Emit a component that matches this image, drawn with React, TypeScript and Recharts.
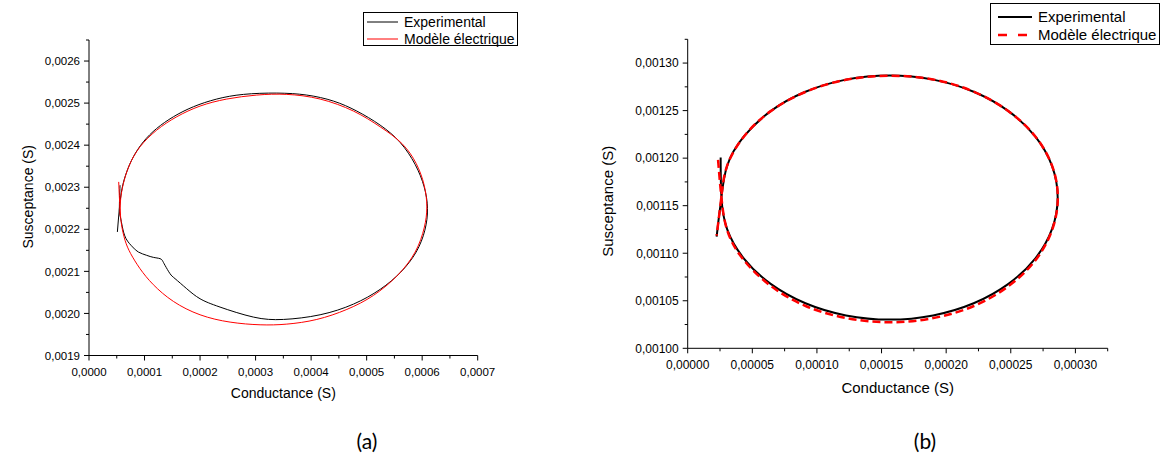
import React from 'react'
import { LineChart, Line, XAxis, YAxis, Legend, Label } from 'recharts'

// all values in µS

// (a)
const expAG = [51.1, 54.7, 59.5, 67.9, 79.9, 97.9, 121.9, 152.0, 188.0, 230.0, 278.1, 338.1, 392.2, 440.2, 482.3, 524.3, 560.4, 587.4, 603.6, 609.6, 604.8, 589.2, 561.6, 524.3, 476.3, 416.2, 350.2, 296.1, 236.0, 200.0, 176.0, 155.0, 145.9, 136.9, 132.7, 127.9, 115.9, 103.9, 88.9, 78.5, 66.7, 60.1, 56.5, 54.7, 55.9]
const expAB = [2193.7, 2249.2, 2296.9, 2336.5, 2372.3, 2408.0, 2439.7, 2467.5, 2491.3, 2509.6, 2520.7, 2523.8, 2519.1, 2504.8, 2481.0, 2447.7, 2406.4, 2354.0, 2300.8, 2249.2, 2197.6, 2146.0, 2098.4, 2057.2, 2022.2, 1996.8, 1985.7, 1991.3, 2015.1, 2034.9, 2058.7, 2082.6, 2094.5, 2114.3, 2124.6, 2130.2, 2133.3, 2138.1, 2146.0, 2158.0, 2177.8, 2205.6, 2229.4, 2249.2, 2304.8]
const modAG = [53.5, 54.7, 55.9, 58.3, 64.9, 75.1, 91.9, 115.9, 152.0, 200.0, 254.1, 308.1, 356.2, 410.2, 464.3, 512.3, 555.6, 587.4, 603.6, 608.4, 603.6, 589.2, 563.4, 524.3, 476.3, 416.2, 356.2, 302.1, 248.0, 200.0, 158.0, 121.9, 91.9, 72.7, 61.9, 57.1, 55.9, 56.2]
const modAB = [2312.7, 2277.0, 2249.2, 2213.5, 2173.8, 2142.1, 2106.4, 2068.3, 2028.6, 1996.8, 1979.4, 1973.0, 1974.6, 1985.7, 2009.5, 2042.9, 2090.5, 2146.0, 2203.2, 2253.2, 2304.8, 2356.4, 2404.0, 2443.7, 2481.0, 2509.6, 2520.7, 2519.1, 2509.6, 2492.9, 2467.5, 2435.7, 2396.1, 2352.4, 2308.8, 2273.0, 2245.3, 2232.0]

// (b)
const expBG = [22.4, 24.2, 26.1, 30.5, 43.5, 64.2, 91.1, 122.5, 156.2, 189.9, 221.3, 248.2, 268.9, 281.9, 286.3, 281.9, 268.9, 248.2, 221.3, 189.9, 156.2, 122.5, 91.1, 64.2, 43.5, 30.5, 26.1, 25.5]
const expBB = [1117.5, 1138.6, 1158.6, 1191.8, 1222.8, 1249.4, 1269.8, 1282.6, 1287.0, 1282.6, 1269.8, 1249.4, 1222.8, 1191.8, 1158.6, 1125.4, 1094.4, 1067.8, 1047.4, 1034.6, 1030.2, 1034.6, 1047.4, 1067.8, 1094.4, 1125.4, 1158.6, 1200.7]
const modBG = [23.5, 24.8, 26.1, 30.6, 43.6, 64.4, 91.3, 122.6, 156.3, 190.0, 221.4, 248.3, 269.0, 282.0, 286.4, 282.0, 269.0, 248.2, 221.2, 189.8, 156.2, 122.4, 91.0, 64.0, 43.4, 30.4, 26.0, 22.4]
const modBB = [1198.2, 1177.2, 1158.6, 1124.0, 1092.5, 1065.5, 1044.5, 1031.8, 1027.4, 1031.8, 1044.5, 1065.5, 1092.5, 1124.5, 1158.6, 1191.8, 1222.8, 1249.4, 1270.0, 1282.8, 1286.6, 1282.4, 1269.6, 1249.2, 1222.6, 1191.6, 1158.6, 1118.6]

// ticks (µS)
const aXMajor = [0, 100, 200, 300, 400, 500, 600, 700]
const aXMinor = [50, 150, 250, 350, 450, 550, 650]
const aYMajor = [1900, 2000, 2100, 2200, 2300, 2400, 2500, 2600]
const aYMinor = [1950, 2050, 2150, 2250, 2350, 2450, 2550, 2650]
const bXMajor = [0, 50, 100, 150, 200, 250, 300]
const bXMinor = [25, 75, 125, 175, 225, 275, 325]
const bYMajor = [1000, 1050, 1100, 1150, 1200, 1250, 1300]
const bYMinor = [1025, 1075, 1125, 1175, 1225, 1275, 1325]

const EXP = 'Experimental'
const MOD = 'Modèle électrique'

const FONT = '"Liberation Sans", Arial, sans-serif'

const rows = (g: number[], b: number[]) => g.map((x, i) => ({ g: x, b: b[i] }))
const fmt = (v: number, digits: number) => (v * 1e-6).toFixed(digits).replace('.', ',')
const merge = (a: number[], b: number[]) => [...a, ...b].sort((p, q) => p - q)

function YTick(props: any) {
  const { x, y, payload, major, digits, fontSize } = props
  const isMajor = major.includes(payload.value)
  return (
    <g>
      <line x1={x - (isMajor ? 5 : 3)} x2={x} y1={y} y2={y} stroke="#000" />
      {isMajor && (
        <text x={x - 9} y={y} dy="0.36em" textAnchor="end" fontSize={fontSize} fontFamily={FONT} fill="#000">
          {fmt(payload.value, digits)}
        </text>
      )}
    </g>
  )
}

function XTick(props: any) {
  const { x, y, payload, major, digits, fontSize } = props
  const isMajor = major.includes(payload.value)
  return (
    <g>
      <line x1={x} x2={x} y1={y} y2={y + (isMajor ? 5 : 3)} stroke="#000" />
      {isMajor && (
        <text x={x} y={y + 16} dy="0.36em" textAnchor="middle" fontSize={fontSize} fontFamily={FONT} fill="#000">
          {fmt(payload.value, digits)}
        </text>
      )}
    </g>
  )
}

type Series = { name: string; g: number[]; b: number[]; color: string; width: number; dash?: string; legendWidth: number; legendDash?: string }

function LegendBox({ items, box }: { items: Series[]; box: any }) {
  return (
    <div style={{ boxSizing: 'border-box', width: box.w, height: box.h, border: '1px solid #000', background: '#fff', paddingTop: box.padTop, paddingLeft: box.padLeft, fontFamily: FONT, fontSize: box.fontSize, color: '#000' }}>
      {items.map((s) => (
        <div key={s.name} style={{ display: 'flex', alignItems: 'center', height: box.rowH, whiteSpace: 'nowrap' }}>
          <svg width={box.lineW} height={6} style={{ marginRight: box.gap, display: 'block' }}>
            <line x1={0} x2={box.lineW} y1={3} y2={3} stroke={s.color} strokeWidth={s.legendWidth} strokeDasharray={s.legendDash} />
          </svg>
          <span>{s.name}</span>
        </div>
      ))}
    </div>
  )
}

function Panel(p: any) {
  return (
    <LineChart width={p.width} height={p.height} margin={{ top: p.top, right: p.right, left: 0, bottom: 0 }}>
      <XAxis
        type="number"
        dataKey="g"
        domain={p.xDomain}
        ticks={merge(p.xMajor, p.xMinor)}
        interval={0}
        allowDataOverflow
        height={p.xHeight}
        tickLine={false}
        tickSize={0}
        tickMargin={0}
        axisLine={{ stroke: '#000' }}
        tick={(t: any) => <XTick {...t} major={p.xMajor} digits={p.digits} fontSize={p.tickFont} />}
      >
        <Label
          content={(lp: any) => {
            const vb = lp.viewBox
            return (
              <text x={vb.x + vb.width / 2} y={vb.y + p.xTitleDy} textAnchor="middle" fontSize={p.titleFont} fontFamily={FONT} fill="#000">
                Conductance (S)
              </text>
            )
          }}
        />
      </XAxis>
      <YAxis
        type="number"
        dataKey="b"
        domain={p.yDomain}
        ticks={merge(p.yMajor, p.yMinor)}
        interval={0}
        allowDataOverflow
        width={p.yWidth}
        tickLine={false}
        tickSize={0}
        tickMargin={0}
        axisLine={{ stroke: '#000' }}
        tick={(t: any) => <YTick {...t} major={p.yMajor} digits={p.digits} fontSize={p.tickFont} />}
      >
        <Label
          content={(lp: any) => {
            const vb = lp.viewBox
            const cx = vb.x + 28
            const cy = vb.y + vb.height / 2 + p.yTitleDy
            return (
              <text x={cx} y={cy} dy="0.36em" transform={`rotate(-90, ${cx}, ${cy})`} textAnchor="middle" fontSize={p.titleFont} fontFamily={FONT} fill="#000">
                Susceptance (S)
              </text>
            )
          }}
        />
      </YAxis>
      {p.series.map((s: Series) => (
        <Line
          key={s.name}
          data={rows(s.g, s.b)}
          dataKey="b"
          name={s.name}
          type="natural"
          stroke={s.color}
          strokeWidth={s.width}
          strokeDasharray={s.dash}
          dot={false}
          activeDot={false}
          isAnimationActive={false}
        />
      ))}
      <Legend
        layout="vertical"
        align="center"
        verticalAlign="middle"
        wrapperStyle={{ left: p.legend.left, top: p.legend.top, width: 'auto', height: 'auto' }}
        content={() => <LegendBox items={p.series} box={p.legend} />}
      />
    </LineChart>
  )
}

const seriesA: Series[] = [
  { name: EXP, g: expAG, b: expAB, color: '#000000', width: 1, legendWidth: 1 },
  { name: MOD, g: modAG, b: modAB, color: '#ff0000', width: 1, legendWidth: 1 },
]
const seriesB: Series[] = [
  { name: EXP, g: expBG, b: expBB, color: '#000000', width: 2, legendWidth: 2.2 },
  { name: MOD, g: modBG, b: modBB, color: '#ff0000', width: 2.5, dash: '8 4', legendWidth: 2.5, legendDash: '9 11' },
]

export default function App() {
  return (
    <div style={{ position: 'absolute', left: 0, top: 0, width: 1162, height: 474, background: '#fff', overflow: 'hidden' }}>
      <div style={{ position: 'absolute', left: 0, top: 0 }}>
        <Panel
          width={580}
          height={420}
          top={40}
          right={102.3}
          yWidth={89}
          xHeight={64.5}
          xDomain={[0, 700]}
          yDomain={[1900, 2650]}
          xMajor={aXMajor}
          xMinor={aXMinor}
          yMajor={aYMajor}
          yMinor={aYMinor}
          digits={4}
          tickFont={11.5}
          titleFont={14}
          xTitleDy={42}
          yTitleDy={-1}
          series={seriesA}
          legend={{ left: 363, top: 12, w: 155, h: 34, padTop: 0, padLeft: 3, rowH: 17, lineW: 31, gap: 6, fontSize: 14 }}
        />
      </div>
      <div style={{ position: 'absolute', left: 580, top: 0 }}>
        <Panel
          width={582}
          height={420}
          top={39.3}
          right={54.3}
          yWidth={107.7}
          xHeight={71.7}
          xDomain={[0, 325]}
          yDomain={[1000, 1325]}
          xMajor={bXMajor}
          xMinor={bXMinor}
          yMajor={bYMajor}
          yMinor={bYMinor}
          digits={5}
          tickFont={12}
          titleFont={15}
          xTitleDy={45}
          yTitleDy={7.5}
          series={seriesB}
          legend={{ left: 410, top: 3, w: 170, h: 42, padTop: 4, padLeft: 7, rowH: 17.7, lineW: 34, gap: 6, fontSize: 15 }}
        />
      </div>
      <div style={{ position: 'absolute', left: 367, top: 429, transform: 'translateX(-50%)', fontFamily: 'Lato, "Open Sans", sans-serif', fontSize: 21, lineHeight: '24px', color: '#000' }}>(a)</div>
      <div style={{ position: 'absolute', left: 925, top: 429, transform: 'translateX(-50%)', fontFamily: 'Lato, "Open Sans", sans-serif', fontSize: 21, lineHeight: '24px', color: '#000' }}>(b)</div>
    </div>
  )
}
